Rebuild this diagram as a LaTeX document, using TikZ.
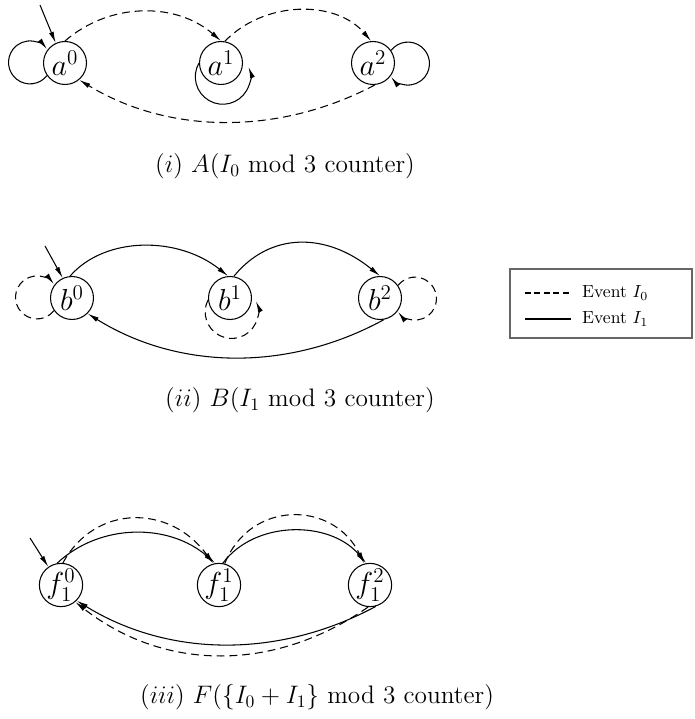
\documentclass[tikz,border=0pt]{standalone}
\usetikzlibrary{arrows.meta}
\begin{document}
\begin{tikzpicture}[x=0.02cm,y=-0.02cm,
  state/.style={draw,circle,line width=0.6pt,minimum size=0.86cm,inner sep=0pt,font=\LARGE},
  evone/.style={line width=0.6pt,-{Latex[length=6.5pt,width=2.8pt]}},
  evzero/.style={evone,dash pattern=on 4.5pt off 2.8pt},
  caption/.style={font=\Large},
]
\useasboundingbox (0,0) rectangle (694,719);
\foreach \i/\x in {0/65,1/221,2/373} \node[state] (a\i) at (\x,63) {$a^{\i}$};
\foreach \i/\x in {0/72,1/230,2/380} \node[state] (b\i) at (\x,298) {$b^{\i}$};
\foreach \i/\x in {0/61,1/219,2/370} \node[state] (f\i) at (\x,585) {$f_1^{\i}$};
\coordinate (ain) at (40,5);
\coordinate (bin) at (45,246);
\coordinate (fin) at (30,538);

\draw[evone] (ain) -- (a0.115);
\draw[evone] (a0.215) arc[start angle=-38,end angle=-322,radius=0.43cm];
\draw[evone] (a1.180) arc[start angle=150,end angle=381,radius=0.55cm];
\draw[evone] (a2.35) arc[start angle=142,end angle=-142,radius=0.43cm];
\draw[evzero] (a0.north) .. controls (110,2) and (176,2) .. (a1.north);
\draw[evzero] (a1.80) .. controls (265,0) and (336,0) .. (a2.95);
\draw[evzero] (a2.-85) .. controls (280,135) and (170,135) .. (a0.-50);
\node[caption] (capa) at (285,166) {$(i)$ $A(I_0$ mod 3 counter$)$};

\draw[evone] (bin) -- (b0.115);
\draw[evzero] (b0.215) arc[start angle=-38,end angle=-322,radius=0.43cm];
\draw[evzero] (b1.185) arc[start angle=153,end angle=384,radius=0.53cm];
\draw[evzero] (b2.35) arc[start angle=142,end angle=-142,radius=0.43cm];
\draw[evone] (b0.95) .. controls (105,236) and (178,236) .. (b1.95);
\draw[evone] (b1.80) .. controls (270,232) and (326,232) .. (b2.90);
\draw[evone] (b2.-80) .. controls (290,371) and (180,371) .. (b0.-45);
\node[caption] (capb) at (300,400) {$(ii)$ $B(I_1$ mod 3 counter$)$};

\draw[black!60,line width=1.1pt] (510,269) rectangle (692,338);
\draw[line width=0.6pt,dash pattern=on 3.2pt off 2.2pt] (525,293) -- (571,293);
\draw[line width=0.6pt] (525,319) -- (571,319);
\node[anchor=west] (keyzero) at (576,293) {Event $I_0$};
\node[anchor=west] (keyone) at (576,319) {Event $I_1$};

\draw[evone] (fin) -- (f0.125);
\draw[evone] (f0.100) .. controls (100,523) and (169,523) .. (f1.100);
\draw[evzero] (f0.85) .. controls (95,504) and (170,504) .. (f1.105);
\draw[evone] (f1.80) .. controls (255,520) and (330,520) .. (f2.100);
\draw[evzero] (f1.75) .. controls (250,500) and (333,500) .. (f2.105);
\draw[evone] (f2.-75) .. controls (280,658) and (170,658) .. (f0.-45);
\draw[evzero] (f2.-95) .. controls (275,672) and (165,672) .. (f0.-50);
\node[caption] (capf) at (317,697) {$(iii)$ $F(\{I_0+I_1\}$ mod 3 counter$)$};
\end{tikzpicture}
\end{document}
